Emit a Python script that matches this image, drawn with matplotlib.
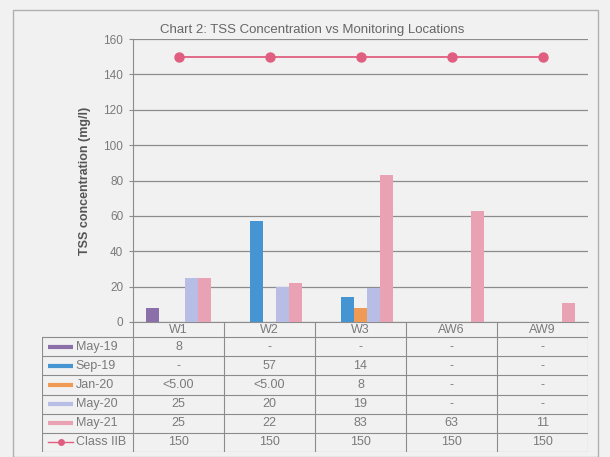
import matplotlib.pyplot as plt
import numpy as np

plt.rcParams['font.family'] = ['Liberation Sans', 'DejaVu Sans']

locations = ['W1', 'W2', 'W3', 'AW6', 'AW9']
series = ['May-19', 'Sep-19', 'Jan-20', 'May-20', 'May-21']
may19 = [8, np.nan, np.nan, np.nan, np.nan]
sep19 = [np.nan, 57, 14, np.nan, np.nan]
jan20 = [np.nan, np.nan, 8, np.nan, np.nan]
may20 = [25, 20, 19, np.nan, np.nan]
may21 = [25, 22, 83, 63, 11]
class_iib = [150, 150, 150, 150, 150]

# table text as printed under the chart
tbl_may19 = ['8', '-', '-', '-', '-']
tbl_sep19 = ['-', '57', '14', '-', '-']
tbl_jan20 = ['<5.00', '<5.00', '8', '-', '-']
tbl_may20 = ['25', '20', '19', '-', '-']
tbl_may21 = ['25', '22', '83', '63', '11']
tbl_class = ['150', '150', '150', '150', '150']

colors = ['#8a6fa8', '#4595d3', '#ef9a55', '#b8bde6', '#e9a2b4']
line_color = '#e05f80'
txt = '#7a7a7a'
bg = '#f1f1f1'

values = [may19, sep19, jan20, may20, may21]
tbl_rows = [tbl_may19, tbl_sep19, tbl_jan20, tbl_may20, tbl_may21, tbl_class]

W, H = 610, 457
fig = plt.figure(figsize=(6.1, 4.57), dpi=100, facecolor=bg)

# outer chart border
fig.patches.append(plt.Rectangle((13 / W, 0.0), 585 / W, 1 - 10 / H,
                                 transform=fig.transFigure, fill=False,
                                 edgecolor='#b0b0b0', lw=1))

ax = fig.add_axes([133 / W, 1 - 322 / H, 455 / W, (322 - 39) / H])
ax.set_facecolor(bg)
x = np.arange(len(locations))
width = 0.145
for i, (vals, c) in enumerate(zip(values, colors)):
    ax.bar(x + (i - 2) * width, vals, width, color=c, zorder=3)
ax.plot(x, class_iib, color=line_color, marker='o', markersize=6.5, lw=1.3, zorder=4)

ax.set_xlim(-0.5, 4.5)
ax.set_ylim(0, 160)
ax.set_yticks(np.arange(0, 161, 20))
ax.set_xticks([])
ax.grid(axis='y', color='#8c8c8c', lw=0.9, zorder=0)
ax.set_axisbelow(True)
for s in ['top', 'right']:
    ax.spines[s].set_visible(False)
ax.spines['left'].set_color('#8c8c8c')
ax.spines['bottom'].set_color('#8c8c8c')
ax.tick_params(axis='y', colors='#8c8c8c', labelcolor=txt, labelsize=8.5, length=3, pad=4)
ax.set_ylabel('TSS concentration (mg/l)', fontsize=9, fontweight='bold', color='#555555', labelpad=9)
fig.text(312 / W, 1 - 30 / H, 'Chart 2: TSS Concentration vs Monitoring Locations',
         ha='center', va='center', fontsize=9.5, color='#666666')

# data table below the plot
tax = fig.add_axes([42 / W, 1 - 452 / H, 546 / W, 130 / H])
tax.set_xlim(-1.5, 4.5)
tax.set_ylim(130, 0)
tax.axis('off')
head = 15
rh = (130 - head) / 6
lc = '#8c8c8c'
for k in range(7):
    yy = head + k * rh
    tax.plot([-1.5, 4.5], [yy, yy], color=lc, lw=0.8, zorder=1)
tax.plot([-1.5, -1.5], [head, 130], color=lc, lw=0.8, zorder=1)
for xv in np.arange(-0.5, 4.6, 1):
    tax.plot([xv, xv], [0, 130], color=lc, lw=0.8, zorder=1)
for j, loc in enumerate(locations):
    tax.text(j, head / 2 + 0.5, loc, ha='center', va='center', fontsize=9, color=txt)
labels = series + ['Class IIB']
for r, lab in enumerate(labels):
    yc = head + (r + 0.5) * rh
    if r < 5:
        tax.plot([-1.43, -1.16], [yc, yc], color=colors[r], lw=3, solid_capstyle='butt')
    else:
        tax.plot([-1.43, -1.16], [yc, yc], color=line_color, lw=1)
        tax.plot([-1.295], [yc], color=line_color, marker='o', markersize=4)
    tax.text(-1.13, yc, lab, ha='left', va='center', fontsize=9, color=txt)
    for j, t in enumerate(tbl_rows[r]):
        tax.text(j, yc, t, ha='center', va='center', fontsize=9, color=txt)

fig.savefig('out.png', dpi=100, facecolor=bg)
